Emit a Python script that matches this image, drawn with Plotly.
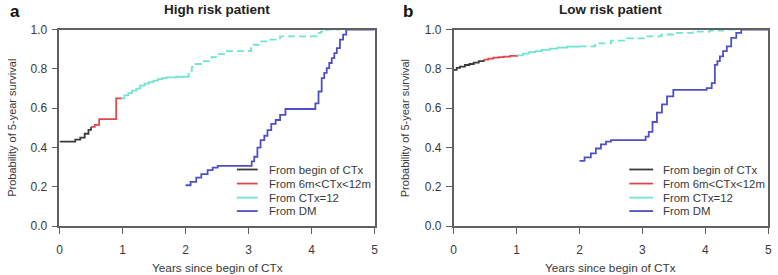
import plotly.graph_objects as go

W, H = 778, 275

# ---------------- data ----------------
# Panel a: High risk patient
hi_begin_x = [0, 0.25, 0.33, 0.40, 0.46, 0.50]
hi_begin_y = [0.43, 0.44, 0.45, 0.47, 0.49, 0.505]
hi_6m_x = [0.50, 0.56, 0.63, 0.90, 0.99]
hi_6m_y = [0.505, 0.515, 0.545, 0.65, 0.65]
hi_12_x = [0.99, 1.03, 1.09, 1.15, 1.22, 1.28, 1.35, 1.42, 1.49, 1.56, 1.63, 1.70, 1.85, 2.0]
hi_12_y = [0.65, 0.665, 0.677, 0.69, 0.70, 0.715, 0.725, 0.733, 0.74, 0.748, 0.753, 0.757, 0.76, 0.76]
hi_12d_x = [2.0, 2.05, 2.10, 2.14, 2.25, 2.41, 2.50, 2.61, 2.98, 3.04, 3.08, 3.20, 3.30, 3.50, 3.98, 4.08, 4.15, 4.24, 4.45]
hi_12d_y = [0.76, 0.79, 0.81, 0.825, 0.84, 0.86, 0.875, 0.89, 0.89, 0.91, 0.923, 0.94, 0.949, 0.966, 0.966, 0.983, 0.99, 1.0, 1.0]
hi_dm_x = [2.0, 2.08, 2.17, 2.25, 2.35, 2.43, 2.51, 3.01, 3.05, 3.09, 3.14, 3.19, 3.25, 3.30, 3.36, 3.43,
           3.50, 3.585, 4.0, 4.06, 4.11, 4.16, 4.20, 4.24, 4.28, 4.32, 4.36, 4.40, 4.45, 4.50, 4.55, 5.0]
hi_dm_y = [0.208, 0.225, 0.247, 0.265, 0.285, 0.298, 0.307, 0.307, 0.33, 0.353, 0.40, 0.438, 0.46, 0.489, 0.52, 0.54,
           0.566, 0.596, 0.596, 0.625, 0.685, 0.753, 0.78, 0.804, 0.83, 0.855, 0.88, 0.906, 0.949, 0.974, 1.0, 1.0]

# Panel b: Low risk patient
lo_begin_x = [0, 0.05, 0.10, 0.18, 0.25, 0.32, 0.40, 0.48]
lo_begin_y = [0.795, 0.805, 0.812, 0.82, 0.825, 0.832, 0.84, 0.847]
lo_6m_x = [0.48, 0.55, 0.63, 0.72, 0.80, 0.90, 1.01]
lo_6m_y = [0.847, 0.852, 0.857, 0.86, 0.863, 0.866, 0.869]
lo_12_x = [1.01, 1.10, 1.20, 1.30, 1.40, 1.53, 1.65, 1.80, 2.0]
lo_12_y = [0.869, 0.878, 0.885, 0.89, 0.897, 0.903, 0.908, 0.913, 0.915]
lo_12d_x = [2.0, 2.25, 2.50, 2.75, 3.02, 3.30, 3.55, 3.80, 4.07, 4.28, 4.50]
lo_12d_y = [0.915, 0.93, 0.944, 0.955, 0.966, 0.975, 0.983, 0.99, 0.995, 1.0, 1.0]
lo_dm_x = [2.0, 2.08, 2.18, 2.26, 2.34, 2.42, 2.50, 3.0, 3.05, 3.10, 3.16, 3.23, 3.31, 3.39, 3.49,
           4.02, 4.10, 4.15, 4.19, 4.23, 4.28, 4.34, 4.41, 4.49, 4.57, 5.0]
lo_dm_y = [0.332, 0.35, 0.37, 0.395, 0.416, 0.43, 0.438, 0.438, 0.455, 0.48, 0.53, 0.578, 0.62, 0.66, 0.693,
           0.702, 0.728, 0.821, 0.84, 0.864, 0.89, 0.915, 0.958, 0.983, 1.0, 1.0]

x_ticks = [0, 1, 2, 3, 4, 5]
y_ticks = [0.0, 0.2, 0.4, 0.6, 0.8, 1.0]
y_tick_text = ["0.0", "0.2", "0.4", "0.6", "0.8", "1.0"]
legend_labels = ["From begin of CTx", "From 6m<CTx<12m", "From CTx=12", "From DM"]
panel_titles = ["High risk patient", "Low risk patient"]
panel_letters = ["a", "b"]
x_title = "Years since begin of CTx"
y_title = "Probability of 5-year survival"

# ---------------- styling ----------------
C_BLACK = "#3a3a3a"
C_RED = "#e0474c"
C_CYAN = "#6fe3d6"
C_BLUE = "#5050c4"
colors = [C_BLACK, C_RED, C_CYAN, C_BLUE]
FONT = "Liberation Sans, Arial, sans-serif"
TXT = "#3a3a3a"
AX = "#606060"

def px(x):
    return x / W

def py(y):
    # target pixel row -> paper fraction (compensates vertical page scaling seen in the photo)
    return 1 - ((y - 7.5) / 0.945) / H

# plot boxes in pixels
boxes = [(57, 375), (454.7, 772.3)]
top, bottom = 30, 225.7

fig = go.Figure()

panels = [
    [(hi_begin_x, hi_begin_y, C_BLACK, "solid"), (hi_6m_x, hi_6m_y, C_RED, "solid"),
     (hi_12_x, hi_12_y, C_CYAN, "solid"), (hi_12d_x, hi_12d_y, C_CYAN, "7px,4px"),
     (hi_dm_x, hi_dm_y, C_BLUE, "solid")],
    [(lo_begin_x, lo_begin_y, C_BLACK, "solid"), (lo_6m_x, lo_6m_y, C_RED, "solid"),
     (lo_12_x, lo_12_y, C_CYAN, "solid"), (lo_12d_x, lo_12d_y, C_CYAN, "7px,4px"),
     (lo_dm_x, lo_dm_y, C_BLUE, "solid")],
]

for i, traces in enumerate(panels):
    xa = "x" if i == 0 else "x2"
    ya = "y" if i == 0 else "y2"
    for xs, ys, col, dash in traces:
        fig.add_trace(go.Scatter(x=xs, y=ys, mode="lines", xaxis=xa, yaxis=ya,
                                 line=dict(color=col, width=1.8, dash=dash, shape="hv"),
                                 showlegend=False, hoverinfo="skip"))

axis_common = dict(showgrid=False, zeroline=False, showline=True, mirror=True,
                   linecolor=AX, linewidth=1.6, ticks="outside", ticklen=6,
                   tickcolor=AX, tickwidth=1, tickfont=dict(family=FONT, size=12, color=TXT))

layout = dict(width=W, height=H, margin=dict(l=0, r=0, t=0, b=0),
              paper_bgcolor="white", plot_bgcolor="white", showlegend=False)
for i, (l, r) in enumerate(boxes):
    sfx = "" if i == 0 else "2"
    layout["xaxis" + sfx] = dict(axis_common, domain=[px(l), px(r)], range=[0, 5],
                                 tickvals=x_ticks, ticklabelstandoff=6,
                                 anchor="y" + sfx)
    layout["yaxis" + sfx] = dict(axis_common, domain=[py(bottom), py(top)], range=[0, 1],
                                 tickvals=y_ticks, ticktext=y_tick_text, ticklabelstandoff=2,
                                 anchor="x" + sfx)
fig.update_layout(**layout)

annotations = []
shapes = []
title_cx = [216, 613]
letter_x = [5, 402]
ytitle_x = [9, 406]
leg_line = [(236, 257), (632, 656)]
leg_text_x = [266, 664]
leg_rows = [169.3, 183.3, 197.3, 210.7]
for i in range(2):
    annotations.append(dict(x=px(title_cx[i]), y=py(9.5), xref="paper", yref="paper",
                            text="<b>%s</b>" % panel_titles[i], showarrow=False,
                            font=dict(family=FONT, size=13.5, color="#222"),
                            xanchor="center", yanchor="middle"))
    annotations.append(dict(x=px(letter_x[i]), y=py(12), xref="paper", yref="paper",
                            text="<b>%s</b>" % panel_letters[i], showarrow=False,
                            font=dict(family=FONT, size=17, color="#111"),
                            xanchor="left", yanchor="middle"))
    annotations.append(dict(x=px((boxes[i][0] + boxes[i][1]) / 2), y=py(267.2), xref="paper", yref="paper",
                            text=x_title, showarrow=False,
                            font=dict(family=FONT, size=11.8, color=TXT),
                            xanchor="center", yanchor="middle"))
    annotations.append(dict(x=px(ytitle_x[i]), y=py((top + bottom) / 2), xref="paper", yref="paper",
                            text=y_title, showarrow=False, textangle=-90,
                            font=dict(family=FONT, size=11, color=TXT),
                            xanchor="center", yanchor="middle"))
    for k, lab in enumerate(legend_labels):
        shapes.append(dict(type="line", xref="paper", yref="paper",
                           x0=px(leg_line[i][0]), x1=px(leg_line[i][1]),
                           y0=py(leg_rows[k]), y1=py(leg_rows[k]),
                           line=dict(color=colors[k], width=1.8)))
        annotations.append(dict(x=px(leg_text_x[i]), y=py(leg_rows[k]), xref="paper", yref="paper",
                                text=lab, showarrow=False,
                                font=dict(family=FONT, size=11.4, color=TXT),
                                xanchor="left", yanchor="middle"))

fig.update_layout(annotations=annotations, shapes=shapes)
fig.write_html("out.html", config={"displayModeBar": False},
               post_script="document.body.style.margin='0';document.body.style.overflow='hidden';")
